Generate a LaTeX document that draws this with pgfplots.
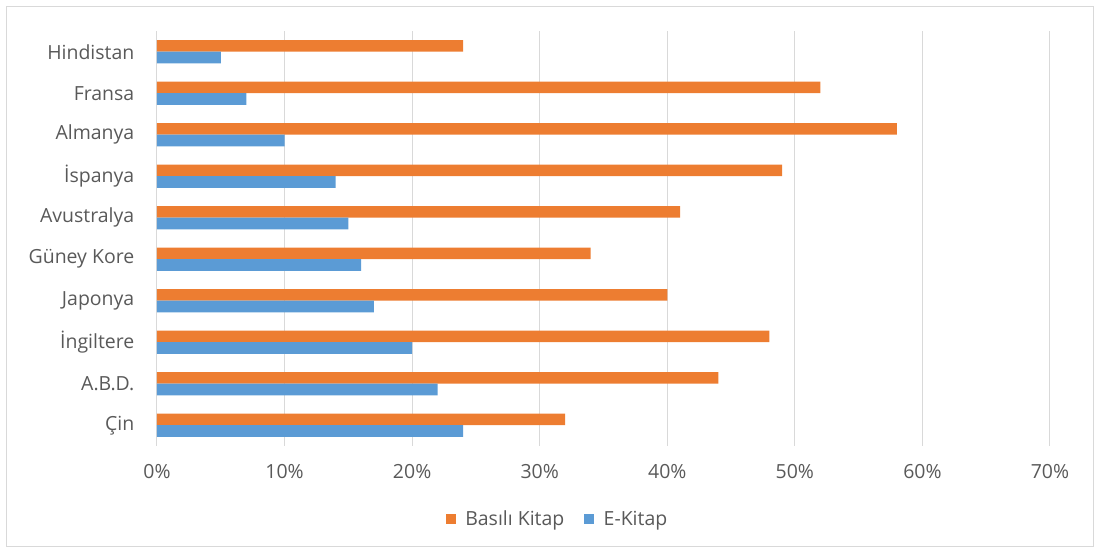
\documentclass[border=0pt]{standalone}
\usepackage{fontspec}
\setmainfont{Open Sans}
\usepackage{pgfplots}
\pgfplotsset{compat=1.18}
\definecolor{borange}{HTML}{ED7D31}
\definecolor{bblue}{HTML}{5B9BD5}
\definecolor{txtgray}{HTML}{595959}
\definecolor{gridgray}{HTML}{D9D9D9}
\begin{document}
\begin{tikzpicture}
\useasboundingbox (-157*0.75pt,-103*0.75pt) rectangle (939*0.75pt,446*0.75pt);
\draw[gridgray, line width=0.75pt] (-150*0.75pt,-101*0.75pt) rectangle (936*0.75pt,439*0.75pt);
\begin{axis}[
  scale only axis, width=893*0.75pt, height=415*0.75pt,
  xbar, bar width=8.8pt,
  xmin=0, xmax=70, ymin=-0.5, ymax=9.5,
  xtick={0,10,...,70},
  ytick={0,...,9},
  yticklabels={Çin,A.B.D.,İngiltere,Japonya,Güney Kore,Avustralya,İspanya,Almanya,Fransa,Hindistan},
  xticklabel={\pgfmathprintnumber{\tick}\%},
  /pgf/number format/assume math mode=true,
  xmajorgrids, major grid style={gridgray, line width=0.75pt},
  axis line style={draw=none},
  major tick length=0pt,
  tick label style={font=\fontsize{14.6}{17}\selectfont, text=txtgray},
  xticklabel style={yshift=-10.5pt},
  yticklabel style={xshift=-13.5pt},
  legend style={draw=none, at={(0.449,-0.176)}, anchor=center, legend columns=2,
    font=\fontsize{14.6}{17}\selectfont, text=txtgray,
    /tikz/every odd column/.append style={column sep=5pt},
    /tikz/every even column/.append style={column sep=13pt}},
  legend image code/.code={\fill[#1] (0pt,-3.75pt) rectangle (7.5pt,3.75pt);},
]
\addplot[fill=borange, draw=none, bar shift=4.4pt] coordinates {
 (32,0) (44,1) (48,2) (40,3) (34,4) (41,5) (49,6) (58,7) (52,8) (24,9)};
\addlegendentry{Basılı Kitap}
\addplot[fill=bblue, draw=none, bar shift=-4.4pt] coordinates {
 (24,0) (22,1) (20,2) (17,3) (16,4) (15,5) (14,6) (10,7) (7,8) (5,9)};
\addlegendentry{E-Kitap}
\end{axis}
\end{tikzpicture}
\end{document}
